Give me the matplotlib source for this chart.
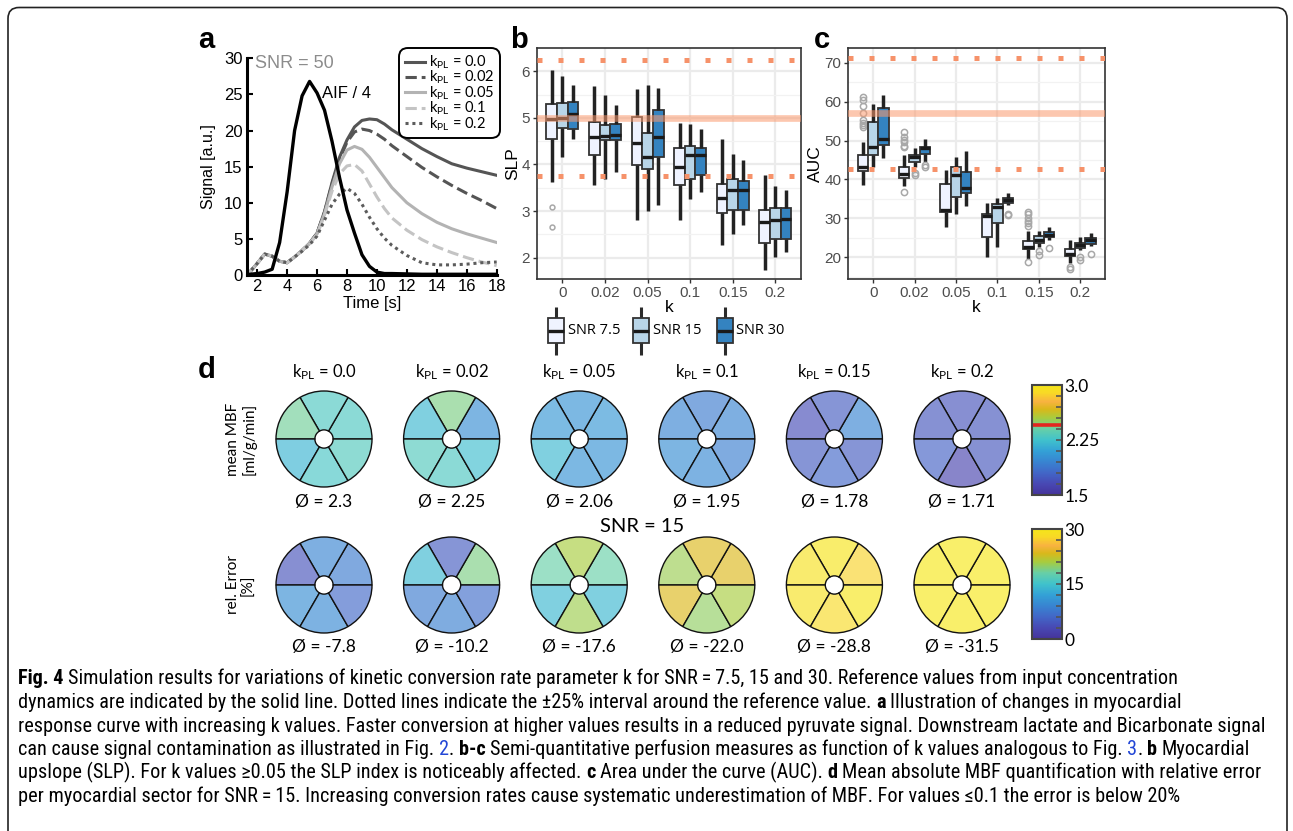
import numpy as np
import matplotlib
matplotlib.use("Agg")
import matplotlib.pyplot as plt
from matplotlib import font_manager
from matplotlib.colors import LinearSegmentedColormap, Normalize, to_rgb
from matplotlib.patches import FancyBboxPatch, Rectangle
from matplotlib.ticker import MultipleLocator
import matplotlib.cm as cm

W, H = 1293, 831

# ---------------- a: myocardial response curves, SNR = 50 ----------------
t = [1.3, 1.5, 2, 2.5, 3, 3.5, 4, 4.5, 5, 5.5, 6, 6.5, 7, 7.5, 8, 8.5, 9, 9.5,
     10, 10.5, 11, 12, 13, 14, 15, 16, 17, 18]
aif_4 = [0, 0.1, 0.2, 0.4, 0.8, 4.5, 11.5, 20.0, 24.8, 26.8, 25.2, 22.8, 18.5, 13.5,
         9.0, 5.8, 2.8, 1.2, 0.4, 0.2, 0.2, 0.15, 0.1, 0.1, 0.1, 0.1, 0.1, 0.1]
sig_k000 = [0, 0.4, 1.6, 2.9, 2.6, 1.9, 1.7, 2.5, 3.4, 4.4, 5.8, 8.8, 12.8, 16.3,
            18.7, 20.5, 21.4, 21.6, 21.5, 20.9, 20.1, 18.8, 17.5, 16.4, 15.4, 14.8, 14.3, 13.8]
sig_k002 = [0, 0.4, 1.6, 2.9, 2.6, 1.9, 1.7, 2.5, 3.4, 4.4, 5.8, 8.7, 12.6, 16.0,
            18.4, 19.8, 20.2, 20.0, 19.5, 18.8, 17.9, 16.4, 14.9, 13.6, 12.4, 11.3, 10.3, 9.2]
sig_k005 = [0, 0.4, 1.6, 2.9, 2.6, 1.9, 1.7, 2.5, 3.4, 4.4, 5.7, 8.5, 12.2, 15.4,
            17.3, 17.8, 17.4, 16.3, 14.9, 13.5, 12.1, 10.0, 8.5, 7.3, 6.4, 5.7, 5.1, 4.5]
sig_k010 = [0, 0.4, 1.6, 2.9, 2.6, 1.9, 1.7, 2.5, 3.4, 4.3, 5.6, 8.3, 11.6, 14.0,
            15.1, 15.3, 14.4, 12.6, 10.8, 9.2, 7.9, 6.2, 4.9, 3.9, 3.1, 2.4, 1.8, 1.3]
sig_k020 = [0, 0.4, 1.6, 2.9, 2.6, 1.9, 1.7, 2.5, 3.3, 4.2, 5.4, 7.6, 9.8, 11.2,
            12.0, 11.3, 9.8, 8.0, 6.4, 5.1, 4.1, 2.7, 1.7, 1.4, 1.4, 1.5, 1.7, 1.8]
curve_k = ['0.0', '0.02', '0.05', '0.1', '0.2']

# ---------------- b/c: box statistics [whislo, q1, med, q3, whishi] ----------------
k_labels = ['0', '0.02', '0.05', '0.1', '0.15', '0.2']
snr_labels = ['SNR 7.5', 'SNR 15', 'SNR 30']

slp_75 = [[3.63, 4.54, 4.98, 5.30, 6.03], [3.57, 4.20, 4.59, 4.91, 5.69],
          [2.81, 3.98, 4.45, 5.02, 5.62], [2.82, 3.57, 3.95, 4.35, 4.89],
          [2.27, 2.96, 3.29, 3.59, 4.55], [1.74, 2.31, 2.77, 3.03, 3.77]]
slp_15 = [[4.15, 4.79, 5.00, 5.32, 5.89], [3.68, 4.53, 4.61, 4.85, 5.50],
          [3.01, 3.91, 4.17, 4.67, 5.71], [3.25, 3.68, 4.20, 4.39, 4.87],
          [2.52, 3.03, 3.45, 3.68, 4.22], [2.02, 2.41, 2.81, 3.06, 3.53]]
slp_30 = [[4.54, 4.77, 5.09, 5.34, 5.71], [3.84, 4.53, 4.64, 4.87, 5.27],
          [3.14, 4.17, 4.59, 5.16, 5.64], [3.41, 3.77, 4.20, 4.35, 4.77],
          [2.71, 3.03, 3.46, 3.65, 4.09], [2.13, 2.41, 2.84, 3.07, 3.45]]
slp_out_75 = [[3.09, 2.66], [], [], [], [], []]
slp_out_15 = [[], [], [], [], [], []]
slp_out_30 = [[], [], [], [], [], []]
slp_ref = 5.0

auc_75 = [[38.5, 42.2, 43.3, 46.3, 49.5], [38.2, 40.5, 41.4, 43.3, 46.3],
          [27.9, 31.7, 32.2, 38.8, 42.4], [20.0, 25.1, 30.6, 31.1, 33.9],
          [19.6, 22.1, 22.6, 24.2, 26.8], [18.6, 20.3, 20.8, 22.1, 24.5]]
auc_15 = [[43.3, 46.3, 48.4, 54.8, 59.4], [43.3, 44.6, 45.9, 46.3, 48.0],
          [31.0, 35.4, 41.1, 43.3, 45.7], [22.7, 28.7, 33.0, 33.6, 35.2],
          [22.7, 23.8, 24.5, 25.5, 26.8], [21.9, 22.3, 23.2, 23.8, 25.3]]
auc_30 = [[45.4, 48.9, 50.3, 58.3, 61.7], [44.6, 46.5, 48.0, 48.4, 50.3],
          [33.2, 36.4, 37.7, 42.0, 47.3], [33.4, 34.0, 34.7, 35.3, 36.4],
          [24.5, 25.1, 25.7, 26.6, 27.7], [22.9, 23.4, 24.5, 24.9, 26.2]]
auc_out_75 = [[53.5, 54.0, 54.6, 55.2, 57.0, 59.0, 60.4, 61.2],
              [48.4, 48.7, 49.5, 50.2, 51.0, 52.2, 36.7], [], [],
              [28.0, 28.7, 29.4, 30.2, 31.0, 31.7, 18.8], [17.4, 16.9]]
auc_out_15 = [[], [41.6, 41.2], [], [], [21.5, 20.6], [20.0, 19.3]]
auc_out_30 = [[], [43.7, 43.3], [], [31.1, 30.8], [22.4], [20.8]]
auc_ref = 57.0

# ---------------- d: polar maps, segments ordered counter-clockwise from 3 o'clock ----------------
kpl_titles = ['0.0', '0.02', '0.05', '0.1', '0.15', '0.2']
mbf_mean = [2.3, 2.25, 2.06, 1.95, 1.78, 1.71]
mbf_seg = [[2.30, 2.30, 2.42, 2.18, 2.28, 2.32],
           [2.00, 2.45, 2.20, 2.32, 2.30, 2.23],
           [2.05, 2.02, 2.05, 2.20, 2.02, 2.02],
           [1.95, 1.90, 1.95, 2.00, 1.98, 1.92],
           [1.95, 1.75, 1.68, 1.75, 1.80, 1.75],
           [1.72, 1.70, 1.72, 1.78, 1.62, 1.72]]
err_mean = [-7.8, -10.2, -17.6, -22.0, -28.8, -31.5]
err_seg = [[-8.0, -9.0, -4.0, -10.0, -9.5, -6.3],
           [-19.0, -5.0, -14.0, -8.0, -8.5, -6.7],
           [-18.0, -21.0, -18.0, -14.0, -20.6, -14.0],
           [-23.5, -23.5, -20.5, -23.5, -20.0, -21.0],
           [-27.5, -29.6, -29.0, -29.0, -28.0, -29.7],
           [-31.0, -32.0, -31.5, -31.5, -31.0, -32.0]]
mbf_true = 2.46

# ---------------- fonts ----------------
names = {f.name for f in font_manager.fontManager.ttflist}
ARIAL = 'Liberation Sans'
CAL = 'Lato' if 'Lato' in names else 'DejaVu Sans'
LEG = 'Open Sans' if 'Open Sans' in names else CAL
CAP = next((f for f in ['Liberation Sans Narrow', 'DejaVu Sans Condensed', 'Roboto Condensed',
                        'Open Sans Condensed'] if f in names), 'Liberation Sans')
plt.rcParams['font.family'] = ARIAL
plt.rcParams['mathtext.fontset'] = 'custom'
plt.rcParams['mathtext.rm'] = CAL
plt.rcParams['mathtext.it'] = CAL + ':italic'
plt.rcParams['mathtext.bf'] = CAL + ':bold'

fig = plt.figure(figsize=(W / 100, H / 100), dpi=100)

# full-figure pixel canvas for labels and the outer frame, drawn on top
ov = fig.add_axes([0, 0, 1, 1])
ov.set_xlim(0, W)
ov.set_ylim(H, 0)
ov.axis('off')
ov.set_zorder(10)
ov.patch.set_visible(False)


def px_axes(x0, y0, x1, y1):
    return fig.add_axes([x0 / W, 1 - y1 / H, (x1 - x0) / W, (y1 - y0) / H])


ov.add_patch(FancyBboxPatch((8, 7.5), W - 14, 900, boxstyle='round,pad=0,rounding_size=11',
                            fc='none', ec='#222222', lw=1.2, clip_on=False))

for lx, ly, letter in [(206, 40, 'a'), (519, 40, 'b'), (822, 40, 'c'), (207, 370, 'd')]:
    ov.text(lx, ly, letter, fontsize=21, weight='bold', ha='center', va='center')

# ---------------- panel a ----------------
ax = px_axes(246.7, 58.3, 496.7, 275)
styles = [('#555555', '-'), ('#555555', (0, (3.7, 1.6))), ('#b3b3b3', '-'),
          ('#c4c4c4', (0, (3.7, 1.6))), ('#5c5c5c', (0, (1, 1.25)))]
handles = []
for y, (c, ls) in zip([sig_k000, sig_k002, sig_k005, sig_k010, sig_k020], styles):
    h, = ax.plot(t, y, color=c, ls=ls, lw=2.2)
    handles.append(h)
ax.plot(t, aif_4, color='black', lw=2.4)
ax.set_xlim(1.3, 18)
ax.set_ylim(0, 30)
ax.set_xticks(range(2, 19, 2))
ax.set_yticks(range(0, 31, 5))
for s in ['top', 'right']:
    ax.spines[s].set_visible(False)
for s in ['left', 'bottom']:
    ax.spines[s].set_linewidth(2.2)
ax.tick_params(direction='in', length=4, width=1.5, labelsize=12, pad=3)
ax.set_xlabel('Time [s]', fontsize=12, labelpad=1)
ax.set_ylabel('Signal [a.u.]', fontsize=11.5, labelpad=6)
leg = ax.legend(handles, [r'k$_{\mathrm{PL}}$ = ' + k for k in curve_k], loc='upper right',
                bbox_to_anchor=(1.013, 1.048), borderaxespad=0, fancybox=True,
                edgecolor='black', framealpha=1, prop=dict(family=CAL, size=10.5),
                handlelength=1.4, handletextpad=0.25, labelspacing=-0.14, borderpad=0.4)
leg.get_frame().set_linewidth(1.4)
leg.get_frame().set_boxstyle('round', pad=0, rounding_size=0.6)
ov.text(294, 63, 'SNR = 50', color='#8c8c8c', fontsize=13, ha='center', va='center')
ov.text(346, 93, 'AIF / 4', color='black', fontsize=12, ha='center', va='center')

# ---------------- panels b and c ----------------
box_fill = ['#eff3ff', '#b8d5e8', '#3483c0']


def box_panel(x0, x1, series, outliers, ref, ylim, yticks, minor, ylabel, fsize):
    axb = px_axes(x0, 48.3, x1, 279.3)
    pos = np.arange(1, 7)
    for i, (data, outs) in enumerate(zip(series, outliers)):
        stats = [dict(whislo=s[0], q1=s[1], med=s[2], q3=s[3], whishi=s[4], fliers=o)
                 for s, o in zip(data, outs)]
        axb.bxp(stats, positions=pos + (i - 1) * 0.25, widths=0.25, patch_artist=True,
                showcaps=False, manage_ticks=False,
                boxprops=dict(facecolor=box_fill[i], edgecolor='#333333', linewidth=1.3),
                whiskerprops=dict(color='#222222', linewidth=2.5, solid_capstyle='butt'),
                medianprops=dict(color='#1a1a1a', linewidth=2.4, solid_capstyle='butt'),
                flierprops=dict(marker='o', markerfacecolor='none', markeredgecolor='#a8a8a8',
                                markersize=fsize, markeredgewidth=1.1, linestyle='none'))
    axb.axhline(ref, color='#fb9a6e', alpha=0.55, lw=4.8, zorder=5)
    for f in (1.25, 0.75):
        axb.axhline(ref * f, color='#f6926a', lw=3.6, ls=(0, (1, 3.2)), zorder=5)
    axb.set_xlim(0.4, 6.6)
    axb.set_ylim(*ylim)
    axb.set_xticks(pos)
    axb.set_xticklabels(k_labels)
    axb.set_yticks(yticks)
    axb.yaxis.set_minor_locator(MultipleLocator(minor))
    axb.set_axisbelow(True)
    axb.grid(True, which='major', color='#ebebeb', lw=1.6)
    axb.grid(True, which='minor', axis='y', color='#f2f2f2', lw=0.9)
    axb.tick_params(which='minor', length=0)
    axb.tick_params(which='major', length=3, width=1, color='#333333',
                    labelcolor='#4d4d4d', labelsize=11, pad=2)
    for s in axb.spines.values():
        s.set_color('#333333')
        s.set_linewidth(1.2)
    axb.set_xlabel('k', fontsize=12.5, labelpad=0)
    axb.set_ylabel(ylabel, fontsize=12.5, labelpad=1)
    return axb


box_panel(536.7, 801, [slp_75, slp_15, slp_30], [slp_out_75, slp_out_15, slp_out_30],
          slp_ref, (1.54, 6.49), [2, 3, 4, 5, 6], 0.5, 'SLP', 3.5)
box_panel(848.3, 1105, [auc_75, auc_15, auc_30], [auc_out_75, auc_out_15, auc_out_30],
          auc_ref, (14.35, 73.7), [20, 30, 40, 50, 60, 70], 5, 'AUC', 4.5)

# legend for the SNR groups
for i, (xc, lab) in enumerate(zip([556, 641, 724.5], snr_labels)):
    ov.plot([xc, xc], [307, 355], color='#2b2b2b', lw=2.2, solid_capstyle='butt')
    ov.add_patch(Rectangle((xc - 8, 318), 16, 25, fc=box_fill[i], ec='#333333', lw=1.3, zorder=3))
    ov.plot([xc - 8, xc + 8], [331, 331], color='#1a1a1a', lw=2.4, zorder=4, solid_capstyle='butt')
    ov.text(xc + 12, 331, lab, family=LEG, fontsize=10.5, ha='left', va='center')

# ---------------- panel d ----------------
parula_like = LinearSegmentedColormap.from_list('parula_like', list(zip(
    [0, 0.1, 0.2, 0.3, 0.4, 0.5, 0.6, 0.7, 0.78, 0.85, 0.93, 1.0],
    ['#45339a', '#4848b3', '#4266c7', '#3884d1', '#33a1d6', '#40c2cc', '#66cfa8',
     '#a6cc40', '#d9b81a', '#f8b340', '#f8d926', '#f5e61a'])))
mbf_norm = Normalize(1.5, 3.0)
err_norm = Normalize(0, 30)


def wash(c, a=0.65):
    return tuple(np.array(to_rgb(c)) * a + (1 - a))


def bullseye(cx, cy, vals, norm, r=48):
    size = 2.2 * r
    axp = px_axes(cx - size / 2, cy - size / 2, cx + size / 2, cy + size / 2)
    cols = [wash(parula_like(norm(abs(v)))) for v in vals]
    axp.pie(np.ones(len(vals)), colors=cols, startangle=0, counterclock=True, radius=1,
            wedgeprops=dict(width=0.81, edgecolor='#111111', linewidth=1.0))
    axp.set_xlim(-1.1, 1.1)
    axp.set_ylim(-1.1, 1.1)


centers = [324 + 127.6 * i for i in range(6)]
for cx, k, ms, mm, es, em in zip(centers, kpl_titles, mbf_seg, mbf_mean, err_seg, err_mean):
    bullseye(cx, 439, ms, mbf_norm)
    bullseye(cx, 585, es, err_norm)
    ov.text(cx, 372, r'k$_{\mathrm{PL}}$ = ' + k, family=CAL, fontsize=12, ha='center', va='center')
    ov.text(cx, 502, '\u00d8 = %g' % mm, family=CAL, fontsize=12.5, ha='center', va='center')
    ov.text(cx, 647, '\u00d8 = %.1f' % em, family=CAL, fontsize=12.5, ha='center', va='center')

ov.text(642, 526, 'SNR = 15', family=CAL, fontsize=14.5, ha='center', va='center')
ov.text(241, 439, 'mean MBF\n[ml/g/min]', family=CAL, fontsize=11, rotation=90,
        ha='center', va='center', linespacing=1.15)
ov.text(241, 585, 'rel. Error\n[%]', family=CAL, fontsize=11, rotation=90,
        ha='center', va='center', linespacing=1.15)

for (y0, y1), norm, labels, mark in [((385, 495), mbf_norm, {1.5: '1.5', 2.25: '2.25', 3.0: '3.0'}, True),
                                     ((529, 639), err_norm, {0: '0', 15: '15', 30: '30'}, False)]:
    cax = px_axes(1032, y0, 1062, y1)
    cb = fig.colorbar(cm.ScalarMappable(norm=norm, cmap=parula_like), cax=cax)
    ticks = np.linspace(norm.vmin, norm.vmax, 11)
    cb.set_ticks(ticks)
    cb.set_ticklabels([labels.get(round(v, 2), '') for v in ticks])
    cax.tick_params(direction='in', length=4, width=1.2, color='#555555', labelsize=12.5, pad=2)
    for lab in cax.get_yticklabels():
        lab.set_family(CAL)
    cb.outline.set_linewidth(1.5)
    cb.outline.set_edgecolor('#444444')
    if mark:
        cax.axhline(mbf_true, color='#e3261f', lw=2.6)

# ---------------- caption ----------------
BLUE = '#2246d6'
caption = [
    [('Fig. 4', 'bold', 'k'),
     (' Simulation results for variations of kinetic conversion rate parameter k for SNR\u2009=\u20097.5, 15 and 30. '
      'Reference values from input concentration', 'normal', 'k')],
    [('dynamics are indicated by the solid line. Dotted lines indicate the \u00b125% interval around the reference value. ',
      'normal', 'k'), ('a', 'bold', 'k'), (' Illustration of changes in myocardial', 'normal', 'k')],
    [('response curve with increasing k values. Faster conversion at higher values results in a reduced pyruvate signal. '
      'Downstream lactate and Bicarbonate signal', 'normal', 'k')],
    [('can cause signal contamination as illustrated in Fig. ', 'normal', 'k'), ('2', 'normal', BLUE),
     ('. ', 'normal', 'k'), ('b-c', 'bold', 'k'),
     (' Semi-quantitative perfusion measures as function of k values analogous to Fig. ', 'normal', 'k'),
     ('3', 'normal', BLUE), ('. ', 'normal', 'k'), ('b', 'bold', 'k'), (' Myocardial', 'normal', 'k')],
    [('upslope (SLP). For k values \u22650.05 the SLP index is noticeably affected. ', 'normal', 'k'),
     ('c', 'bold', 'k'), (' Area under the curve (AUC). ', 'normal', 'k'), ('d', 'bold', 'k'),
     (' Mean absolute MBF quantification with relative error', 'normal', 'k')],
    [('per myocardial sector for SNR\u2009=\u200915. Increasing conversion rates cause systematic underestimation '
      'of MBF. For values \u22640.1 the error is below 20%', 'normal', 'k')],
]
renderer = fig.canvas.get_renderer()


def text_width(s, size, weight):
    tt = ov.text(0, 0, s, family=CAP, fontsize=size, weight=weight)
    w = tt.get_window_extent(renderer=renderer).width
    tt.remove()
    return w


def draw_line(x, y, segs, size):
    sp = text_width('x x', size, 'normal') - text_width('xx', size, 'normal')
    made = []
    for s, weight, color in segs:
        lead = len(s) - len(s.lstrip(' '))
        trail = len(s) - len(s.rstrip(' '))
        core = s.strip(' ')
        x += lead * sp
        made.append(ov.text(x, y, core, family=CAP, fontsize=size, weight=weight, color=color,
                            ha='left', va='baseline'))
        x += text_width(core, size, weight) + trail * sp
    return x, made


# size the caption so that its longest line fits the text block
widths = []
for segs in caption:
    x_end, made = draw_line(18, -100, segs, 12)
    widths.append(x_end - 18)
    for m in made:
        m.remove()
cap_size = 12 * (1260 - 18) / max(widths)

for i, segs in enumerate(caption):
    draw_line(18, 684.5 + 23.5 * i, segs, cap_size)

fig.savefig('out.png', dpi=100)
